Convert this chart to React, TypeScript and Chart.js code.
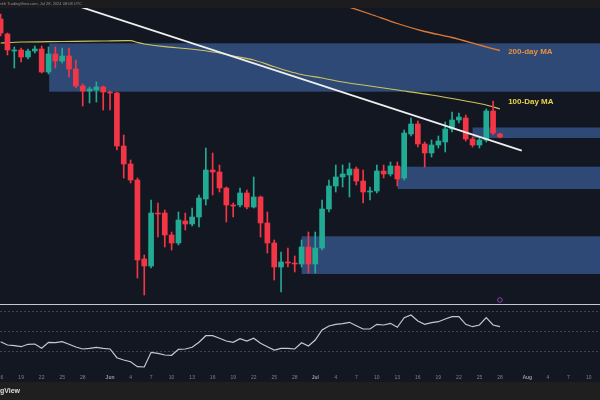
import React, { useEffect, useRef } from "react";
import { Chart, registerables } from "chart.js";

Chart.register(...registerables);

// ---- Data (day index 0 = May 16, 2024; daily candles) ----
const days = [
  0, 1, 2, 3, 4, 5, 6, 7, 8, 9, 10, 11, 12, 13, 14, 15, 16, 17, 18, 19,
  20, 21, 22, 23, 24, 25, 26, 27, 28, 29, 30, 31, 32, 33, 34, 35, 36, 37, 38, 39,
  40, 41, 42, 43, 44, 45, 46, 47, 48, 49, 50, 51, 52, 53, 54, 55, 56, 57, 58, 59,
  60, 61, 62, 63, 64, 65, 66, 67, 68, 69, 70, 71, 72, 73,
];

const open = [
  381, 366, 349, 350, 343, 349, 351, 328, 346, 339, 344, 331, 314, 309, 310, 313, 308, 307, 254, 236,
  220, 141, 134, 187, 187, 165, 157, 179, 176, 183, 201, 230, 228, 212, 195, 195, 207, 193, 203, 177,
  157, 133, 138, 137, 136, 153, 136, 152, 191, 214, 223, 225, 231, 219, 208, 209, 229, 226, 234, 222,
  266, 276, 256, 247, 255, 258, 271, 280, 282, 261, 255, 260, 289, 266,
];
const close = [
  367, 350, 350, 343, 349, 351, 328, 346, 339, 344, 331, 314, 309, 311, 313, 308, 307, 254, 236, 220,
  140, 134, 187, 186, 165, 157, 180, 176, 183, 202, 230, 228, 212, 195, 194, 207, 193, 203, 177, 157,
  133, 138, 137, 136, 153, 136, 152, 191, 214, 223, 226, 231, 219, 208, 209, 229, 226, 234, 221, 267,
  276, 256, 247, 255, 259, 271, 280, 283, 261, 255, 260, 289, 267, 263,
];
const high = [
  386, 367, 353, 352, 351, 354, 354, 353, 353, 352, 352, 340, 316, 313, 318, 314, 309, 308, 265, 240,
  222, 145, 200, 197, 190, 168, 188, 187, 192, 205, 252, 247, 235, 213, 197, 212, 210, 223, 204, 188,
  160, 148, 152, 144, 160, 168, 168, 200, 220, 235, 235, 237, 233, 230, 213, 235, 235, 238, 238, 270,
  282, 279, 258, 260, 264, 278, 288, 287, 285, 263, 262, 291, 299, 267,
];
const low = [
  364, 345, 332, 338, 341, 347, 327, 326, 332, 337, 323, 312, 294, 297, 298, 290, 290, 250, 222, 217,
  122, 105, 132, 163, 153, 150, 155, 170, 174, 173, 195, 205, 208, 178, 183, 193, 191, 192, 163, 147,
  120, 108, 133, 128, 133, 127, 127, 150, 188, 208, 213, 203, 215, 197, 200, 207, 222, 224, 214, 220,
  264, 253, 233, 243, 252, 248, 268, 277, 259, 253, 252, 258, 265, 262,
];

const rsi = [
  38.8, 35.5, 34.8, 33.8, 36.2, 36.5, 32.2, 38.2, 37.8, 38.8, 36.2, 33.5, 31.5, 32.2, 33.2, 32.2, 31.5, 22.8, 20.5, 18.8,
  13.8, 13.5, 28.2, 27.2, 25.5, 25.2, 31.2, 31.5, 33.2, 38.2, 44.8, 44.8, 42.2, 39.5, 38.2, 41.8, 39.5, 42.2, 37.2, 33.8,
  30.5, 32.2, 32.2, 31.5, 37.8, 34.5, 40.5, 50.5, 54.5, 56.2, 56.8, 58.2, 54.8, 51.5, 51.5, 56.2, 55.5, 57.2, 53.2, 62.8,
  65.5, 59.5, 56.2, 57.8, 58.8, 61.5, 63.8, 63.8, 56.2, 53.8, 55.5, 62.8, 55.5, 53.8,
];

// Moving averages (day index, value)
const ma100Days = [0, 3, 7, 11, 15, 19, 20, 21, 24, 27, 29, 32, 34, 37, 40, 42, 44, 47, 50, 54, 58, 63, 68, 71, 73];
const ma100Vals = [357, 358, 358.3, 358.7, 359, 359.3, 357.5, 356, 353.3, 351.5, 350, 347, 344, 340, 333.3, 329, 325.5, 322, 318, 314, 310, 305, 299, 295, 291];
const ma200Days = [50, 54, 58, 62, 66, 70, 73];
const ma200Vals = [395, 386, 376.5, 368.5, 362.5, 355, 349.5];

// Descending trendline
const trendDays = [11.5, 76.2];
const trendVals = [393.5, 249.3];

// Zones: start day, low, high (extend to right edge)
const zoneStart = [7.1, 69.0, 58.05, 44.0];
const zoneLow = [308.3, 262, 211, 126];
const zoneHigh = [356.7, 272.5, 233.3, 163.7];

// RSI guide levels
const rsiLevels = [70, 50, 30];

// Time axis
const tickDays = [0, 3, 6, 9, 12, 16, 19, 22, 25, 28, 31, 34, 37, 40, 43, 46, 49, 52, 55, 58, 61, 64, 67, 70, 73, 77, 80, 83, 86];
const tickLabels = ["16", "19", "22", "25", "28", "Jun", "4", "7", "10", "13", "16", "19", "22", "25", "28", "Jul", "4", "7", "10", "13", "16", "19", "22", "25", "28", "Aug", "4", "7", "10"];
const monthLabels = ["Jun", "Jul", "Aug"];

const maLabels = ["200-day MA", "100-Day MA"];
const maLabelDay = [74.2, 74.2];
const maLabelVal = [348, 298.5];

const headerText = "created with TradingView.com, Jul 28, 2024 08:08 UTC";
const footerText = "TradingView";

// ---- Styles ----
const UP = "#22ab94";
const DOWN = "#f23645";
const BG = "#131722";
const ZONE = "rgb(46,73,117)";
const FONT = '"Liberation Sans", Arial, sans-serif';

const decorPlugin = {
  id: "tvDecor",
  beforeDraw(chart: any) {
    const { ctx, width, height } = chart;
    ctx.save();
    ctx.fillStyle = BG;
    ctx.fillRect(0, 0, width, height);
    ctx.restore();
  },
  beforeDatasetsDraw(chart: any) {
    const { ctx, chartArea } = chart;
    const xs = chart.scales.x;
    const ys = chart.scales.y;
    const rs = chart.scales.yRsi;
    ctx.save();
    ctx.beginPath();
    ctx.rect(chartArea.left, chartArea.top, chartArea.right - chartArea.left, chartArea.bottom - chartArea.top);
    ctx.clip();
    // zones
    ctx.fillStyle = ZONE;
    for (let i = 0; i < zoneStart.length; i++) {
      const x1 = xs.getPixelForValue(zoneStart[i]);
      const y1 = ys.getPixelForValue(zoneHigh[i]);
      const y2 = ys.getPixelForValue(zoneLow[i]);
      ctx.fillRect(x1, y1, chartArea.right - x1, y2 - y1);
    }
    // RSI guide lines
    ctx.strokeStyle = "rgba(120,125,140,0.45)";
    ctx.lineWidth = 1;
    ctx.setLineDash([2, 2]);
    for (const lv of rsiLevels) {
      const y = Math.round(rs.getPixelForValue(lv)) + 0.5;
      ctx.beginPath();
      ctx.moveTo(chartArea.left, y);
      ctx.lineTo(chartArea.right, y);
      ctx.stroke();
    }
    ctx.setLineDash([]);
    // pane separator
    ctx.strokeStyle = "#c4c8d0";
    ctx.lineWidth = 1;
    ctx.beginPath();
    ctx.moveTo(0, 304.5);
    ctx.lineTo(chart.width, 304.5);
    ctx.stroke();
    ctx.restore();
  },
  afterDatasetsDraw(chart: any) {
    const { ctx } = chart;
    const xs = chart.scales.x;
    const ys = chart.scales.y;
    ctx.save();
    // MA labels
    ctx.font = `bold 8px ${FONT}`;
    ctx.textAlign = "left";
    ctx.textBaseline = "middle";
    const labelColors = ["#e8913c", "#ecd447"];
    for (let i = 0; i < maLabels.length; i++) {
      ctx.fillStyle = labelColors[i];
      ctx.fillText(maLabels[i], xs.getPixelForValue(maLabelDay[i]), ys.getPixelForValue(maLabelVal[i]));
    }
    // event marker
    ctx.strokeStyle = "#8e3fb0";
    ctx.lineWidth = 1;
    ctx.beginPath();
    ctx.arc(xs.getPixelForValue(days[days.length - 1]), 300, 2.3, 0, Math.PI * 2);
    ctx.stroke();
    // time axis labels
    ctx.textAlign = "center";
    ctx.textBaseline = "middle";
    for (let i = 0; i < tickDays.length; i++) {
      const isMonth = monthLabels.includes(tickLabels[i]);
      ctx.font = `${isMonth ? "bold " : ""}5px ${FONT}`;
      ctx.fillStyle = isMonth ? "#9598a1" : "#7c808c";
      ctx.fillText(tickLabels[i], xs.getPixelForValue(tickDays[i]), 377.5);
    }
    ctx.restore();
  },
  afterDraw(chart: any) {
    const { ctx, width, height } = chart;
    ctx.save();
    // header bar
    ctx.fillStyle = "#1c1c1e";
    ctx.fillRect(0, 0, width, 8);
    ctx.fillStyle = "#8d8f96";
    ctx.font = `4px ${FONT}`;
    ctx.textAlign = "right";
    ctx.textBaseline = "middle";
    ctx.fillText(headerText, 82, 4.3);
    // footer bar
    ctx.fillStyle = "#201f1f";
    ctx.fillRect(0, 382, width, height - 382);
    ctx.fillStyle = "#dcdde0";
    ctx.font = `bold 7px ${FONT}`;
    ctx.textAlign = "right";
    ctx.fillText(footerText, 20, 391);
    ctx.restore();
  },
};

export default function App() {
  const canvasRef = useRef<HTMLCanvasElement | null>(null);

  useEffect(() => {
    const canvas = canvasRef.current;
    if (!canvas) return;
    const colors = days.map((_, i) => (close[i] >= open[i] ? UP : DOWN));
    const chart = new Chart(canvas, {
      type: "bar",
      data: {
        datasets: [
          {
            type: "line",
            label: "Trendline",
            data: trendDays.map((d, i) => ({ x: d, y: trendVals[i] })),
            borderColor: "#eeeeee",
            borderWidth: 1.8,
            pointRadius: 0,
            yAxisID: "y",
            order: 0,
          } as any,
          {
            type: "bar",
            label: "Body",
            data: days.map((d, i) => ({ x: d, y: [open[i], close[i]] })),
            backgroundColor: colors,
            borderWidth: 0,
            barThickness: 5,
            grouped: false,
            yAxisID: "y",
            order: 1,
          } as any,
          {
            type: "bar",
            label: "Wick",
            data: days.map((d, i) => ({ x: d, y: [low[i], high[i]] })),
            backgroundColor: colors,
            borderWidth: 0,
            barThickness: 1,
            grouped: false,
            yAxisID: "y",
            order: 2,
          } as any,
          {
            type: "line",
            label: "100-Day MA",
            data: ma100Days.map((d, i) => ({ x: d, y: ma100Vals[i] })),
            borderColor: "#cfc25a",
            borderWidth: 1.2,
            pointRadius: 0,
            tension: 0.3,
            yAxisID: "y",
            order: 3,
          } as any,
          {
            type: "line",
            label: "200-day MA",
            data: ma200Days.map((d, i) => ({ x: d, y: ma200Vals[i] })),
            borderColor: "#e07a35",
            borderWidth: 1.3,
            pointRadius: 0,
            tension: 0.3,
            yAxisID: "y",
            order: 3,
          } as any,
          {
            type: "line",
            label: "RSI",
            data: days.map((d, i) => ({ x: d, y: rsi[i] })),
            borderColor: "#c3c8d4",
            borderWidth: 1.2,
            pointRadius: 0,
            tension: 0,
            yAxisID: "yRsi",
            order: 4,
          } as any,
        ],
      },
      options: {
        animation: false,
        responsive: true,
        maintainAspectRatio: false,
        events: [],
        layout: { padding: { top: 8, bottom: 19, left: 0, right: 0 } },
        plugins: {
          legend: { display: false },
          tooltip: { enabled: false },
        },
        scales: {
          x: { type: "linear", axis: "x", min: -0.09, max: 87.63, offset: false, display: false },
          y: { type: "linear", axis: "y", min: 19, max: 392, display: false },
          yRsi: { type: "linear", axis: "y", min: -0.5, max: 372.5, display: false },
        },
      } as any,
      plugins: [decorPlugin],
    });
    return () => chart.destroy();
  }, []);

  return (
    <div style={{ position: "fixed", left: 0, top: 0, width: 600, height: 400, background: BG }}>
      <canvas ref={canvasRef} style={{ display: "block" }} />
    </div>
  );
}
